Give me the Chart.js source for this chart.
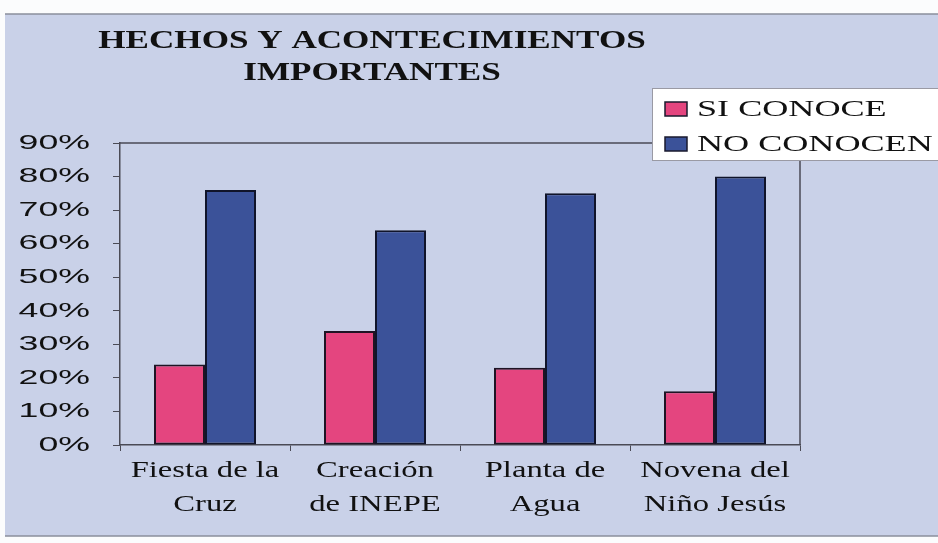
<!DOCTYPE html>
<html>
<head>
<meta charset="utf-8">
<script src="https://cdn.jsdelivr.net/npm/chart.js@4/dist/chart.umd.min.js"></script>
<style>
  body { margin: 0; background: #fff; }
  #caja { position: relative; width: 938px; height: 543px; }
</style>
</head>
<body>
<div id="caja"><canvas id="grafico"></canvas></div>
<script>
// datos
const titulo = ['HECHOS Y ACONTECIMIENTOS', 'IMPORTANTES']
const categorias = [['Fiesta de la', 'Cruz'], ['Creación', 'de INEPE'], ['Planta de', 'Agua'], ['Novena del', 'Niño Jesús']]
const seriesNombres = ['SI CONOCE', 'NO CONOCEN']
const siConoce = [24, 34, 23, 16]
const noConocen = [76, 64, 75, 80]
const marcasY = ['0%', '10%', '20%', '30%', '40%', '50%', '60%', '70%', '80%', '90%']

const colorFondo = '#c9d1e8'
const colorLinea = '#4a4a55'

// el escaneo original tiene el texto estirado a lo ancho
function etiquetasEstiradas(escala, factor){
    escala.drawLabels = function(area){
        const ctx = this.ctx
        for(let item of this.getLabelItems(area)){
            const op = item.options
            const lineas = Array.isArray(item.label) ? item.label : [item.label]
            ctx.save()
            ctx.translate(op.translation[0], op.translation[1])
            ctx.scale(factor, 1)
            ctx.font = item.font.string
            ctx.fillStyle = op.color
            ctx.textAlign = op.textAlign
            ctx.textBaseline = op.textBaseline
            lineas.forEach((linea, i) => ctx.fillText(linea, 0, item.textOffset + i * item.font.lineHeight))
            ctx.restore()
        }
    }
}

function textoEstirado(ctx, texto, x, y, factor){
    ctx.save()
    ctx.translate(x, y)
    ctx.scale(factor, 1)
    ctx.fillText(texto, 0, 0)
    ctx.restore()
}

// fondo del escaneo y marco del area del grafico
const fondo = {
    id: 'fondo',
    beforeDraw(chart){
        const ctx = chart.ctx
        ctx.save()
        ctx.fillStyle = '#fbfcfd'
        ctx.fillRect(0, 0, chart.width, chart.height)
        ctx.fillStyle = colorFondo
        ctx.fillRect(5, 14, chart.width - 5, 522)
        ctx.strokeStyle = '#8a8f9c'
        ctx.lineWidth = 1.5
        ctx.beginPath()
        ctx.moveTo(5, 14)
        ctx.lineTo(chart.width, 14)
        ctx.moveTo(5, 536)
        ctx.lineTo(chart.width, 536)
        ctx.stroke()
        ctx.restore()
    },
    afterDatasetsDraw(chart){
        const a = chart.chartArea
        const ctx = chart.ctx
        ctx.save()
        ctx.strokeStyle = colorLinea
        ctx.lineWidth = 1.5
        ctx.beginPath()
        ctx.moveTo(a.left, a.top)
        ctx.lineTo(a.right, a.top)
        ctx.lineTo(a.right, a.bottom)
        ctx.stroke()
        ctx.restore()
    },
    afterUpdate(chart){
        etiquetasEstiradas(chart.scales.y, 1.7)
        etiquetasEstiradas(chart.scales.x, 1.42)
    }
}

// titulo y leyenda encima del grafico
const tituloLeyenda = {
    id: 'tituloLeyenda',
    afterDraw(chart){
        const ctx = chart.ctx
        ctx.save()
        ctx.fillStyle = '#111'
        ctx.font = 'bold 26px "Liberation Serif"'
        ctx.textAlign = 'center'
        ctx.textBaseline = 'middle'
        textoEstirado(ctx, titulo[0], 372, 41, 1.35)
        textoEstirado(ctx, titulo[1], 372, 73, 1.35)

        // leyenda
        ctx.fillStyle = '#ffffff'
        ctx.fillRect(652, 88, 300, 72)
        ctx.strokeStyle = '#9a9aa4'
        ctx.lineWidth = 1
        ctx.strokeRect(652.5, 88.5, 300, 72)
        ctx.font = '23px "Liberation Serif"'
        ctx.textAlign = 'left'
        chart.data.datasets.forEach((ds, i) => {
            const yc = 109 + i * 35
            ctx.fillStyle = ds.backgroundColor
            ctx.fillRect(665, yc - 7, 22, 14)
            ctx.strokeStyle = '#1a1a2e'
            ctx.lineWidth = 1.5
            ctx.strokeRect(665, yc - 7, 22, 14)
            ctx.fillStyle = '#111'
            textoEstirado(ctx, ds.label, 697, yc + 1, 1.57)
        })
        ctx.restore()
    }
}

const grafico = new Chart(document.querySelector('canvas#grafico'), {
    type: 'bar',
    data: {
        labels: categorias,
        datasets: [
            {
                label: seriesNombres[0],
                data: siConoce,
                backgroundColor: '#e4457f',
                borderColor: '#1e1424',
                borderWidth: 2,
                borderSkipped: false
            },
            {
                label: seriesNombres[1],
                data: noConocen,
                backgroundColor: '#3b5299',
                borderColor: '#10142a',
                borderWidth: 2,
                borderSkipped: false
            }
        ]
    },
    options: {
        responsive: true,
        maintainAspectRatio: false,
        animation: false,
        categoryPercentage: 0.6,
        barPercentage: 1,
        layout: {
            padding: { left: 0, top: 143, right: 138, bottom: 0 }
        },
        plugins: {
            legend: { display: false },
            tooltip: { enabled: false }
        },
        scales: {
            x: {
                grid: {
                    offset: true,
                    drawOnChartArea: false,
                    tickLength: 6,
                    color: colorLinea
                },
                border: { display: true, color: colorLinea, width: 1.5 },
                ticks: {
                    color: '#111',
                    padding: 2,
                    maxRotation: 0,
                    font: { family: '"Liberation Serif"', size: 23, lineHeight: 1.52 }
                },
                afterFit(escala){
                    escala.height = 98
                }
            },
            y: {
                min: 0,
                max: 90,
                grid: {
                    drawOnChartArea: false,
                    tickLength: 7,
                    color: colorLinea
                },
                border: { display: true, color: colorLinea, width: 1.5 },
                ticks: {
                    stepSize: 10,
                    color: '#111',
                    padding: 23,
                    font: { family: '"Liberation Sans"', size: 21 },
                    callback: (valor, i) => marcasY[i]
                },
                afterFit(escala){
                    escala.width = 120
                }
            }
        }
    },
    plugins: [fondo, tituloLeyenda]
})
</script>
</body>
</html>
